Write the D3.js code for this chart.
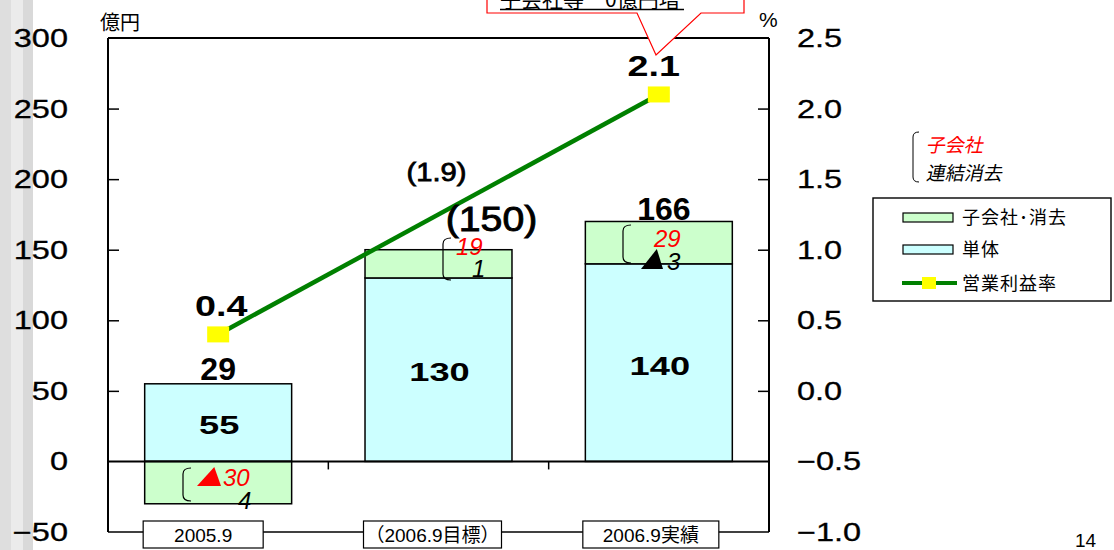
<!DOCTYPE html>
<html><head><meta charset="utf-8">
<script src="https://cdn.jsdelivr.net/npm/d3@7"></script>
<style>
html,body{margin:0;padding:0;background:#fff;}
svg{display:block;}
</style></head>
<body>
<svg id="c" width="1114" height="550"></svg>
<script>
const categories = ["2005.9", "（2006.9目標）", "2006.9実績"];
const tantai = [55, 130, 140];            // 単体
const kogaisha = [-30, 20, 30];           // 子会社・消去
const totalLabels = ["29", "(150)", "166"];
const marginValues = [0.4, 1.9, 2.1];     // 営業利益率 (%)
const marginLabels = ["0.4", "(1.9)", "2.1"];
const marginOnLine = [true, false, true];
const subsidiaryNotes = ["▲30", "19", "29"];
const elimNotes = ["4", "1", "▲3"];
const leftTicks = [-50, 0, 50, 100, 150, 200, 250, 300];
const rightTicks = [-1.0, -0.5, 0.0, 0.5, 1.0, 1.5, 2.0, 2.5];
const legendItems = ["子会社･消去", "単体", "営業利益率"];

const svg = d3.select("#c");
const L = 108, R = 769, T = 38, B = 532;
const x = d3.scaleBand().domain(categories).range([L, R]).padding(0);
const y = d3.scaleLinear().domain([-50, 300]).range([B, T]);
const y2 = d3.scaleLinear().domain([-1.0, 2.5]).range([B, T]);
const bw = x.bandwidth() * 0.667;
const cx = c => x(c) + x.bandwidth() / 2;

const GREEN = "#ccffcc", CYAN = "#ccffff", LINE = "#008000";
const SANS = "Liberation Sans";

function stretch(sel, f) {
  sel.each(function () {
    const w = this.getComputedTextLength();
    d3.select(this).attr("textLength", w * f).attr("lengthAdjust", "spacingAndGlyphs");
  });
  return sel;
}

// left stripes
[[0, 11, "#dedede"], [11, 12, "#ebebeb"], [23, 10, "#d9d9d9"]].forEach(s =>
  svg.append("rect").attr("x", s[0]).attr("y", 0).attr("width", s[1]).attr("height", 550).attr("fill", s[2]));

// bars
const g = svg.append("g");
categories.forEach((c, i) => {
  g.append("rect").attr("x", cx(c) - bw / 2).attr("width", bw)
    .attr("y", y(tantai[i])).attr("height", y(0) - y(tantai[i]))
    .attr("fill", CYAN).attr("stroke", "#000").attr("stroke-width", 1.5);
  const base = kogaisha[i] < 0 ? 0 : tantai[i];
  const top = base + kogaisha[i];
  g.append("rect").attr("x", cx(c) - bw / 2).attr("width", bw)
    .attr("y", y(Math.max(base, top))).attr("height", Math.abs(y(base) - y(top)))
    .attr("fill", GREEN).attr("stroke", "#000").attr("stroke-width", 1.5);
});

// frame
const axW = 2;
svg.append("line").attr("x1", L).attr("x2", R).attr("y1", T).attr("y2", T).attr("stroke", "#000").attr("stroke-width", axW);
svg.append("line").attr("x1", L).attr("x2", L).attr("y1", T).attr("y2", B).attr("stroke", "#000").attr("stroke-width", axW);
svg.append("line").attr("x1", R).attr("x2", R).attr("y1", T).attr("y2", B).attr("stroke", "#000").attr("stroke-width", axW);
svg.append("line").attr("x1", L).attr("x2", R).attr("y1", B).attr("y2", B).attr("stroke", "#000").attr("stroke-width", 1.5);
svg.append("line").attr("x1", L).attr("x2", R).attr("y1", y(0)).attr("y2", y(0)).attr("stroke", "#000").attr("stroke-width", 2);
categories.slice(1).forEach(c => svg.append("line").attr("x1", x(c)).attr("x2", x(c))
  .attr("y1", y(0)).attr("y2", y(0) + 8).attr("stroke", "#000").attr("stroke-width", 1.5));

// left axis ticks & labels
const la = d3.axisRight(y).tickValues(leftTicks.filter(v => v > -50 && v < 300 && v !== 0)).tickSize(11).tickFormat("");
svg.append("g").attr("transform", `translate(${L},0)`).call(la).call(s => s.select(".domain").remove())
  .selectAll("line").attr("stroke", "#000").attr("stroke-width", 1.5);
stretch(svg.append("g").selectAll("text").data(leftTicks).join("text")
  .attr("x", 68).attr("y", d => y(d)).attr("dy", "0.36em").attr("text-anchor", "end")
  .attr("font-family", SANS).attr("font-size", 25).attr("stroke", "#000").attr("stroke-width", 0.3)
  .text(d => d < 0 ? "−" + Math.abs(d) : d), 1.3);

// right axis ticks & labels
const ra = d3.axisLeft(y2).tickValues(rightTicks.filter(v => v > -1 && v < 2.5 && v !== -0.5)).tickSize(11).tickFormat("");
svg.append("g").attr("transform", `translate(${R},0)`).call(ra).call(s => s.select(".domain").remove())
  .selectAll("line").attr("stroke", "#000").attr("stroke-width", 1.5);
stretch(svg.append("g").selectAll("text").data(rightTicks).join("text")
  .attr("x", 797).attr("y", d => y2(d)).attr("dy", "0.36em").attr("text-anchor", "start")
  .attr("font-family", SANS).attr("font-size", 25).attr("stroke", "#000").attr("stroke-width", 0.3)
  .text(d => (d < 0 ? "−" : "") + Math.abs(d).toFixed(1)), 1.3);

// unit labels
svg.append("text").attr("x", 100).attr("y", 30).attr("font-family", "Noto Sans CJK JP").attr("font-size", 20).text("億円");
svg.append("text").attr("x", 759).attr("y", 27).attr("font-family", SANS).attr("font-size", 21).text("%");

// category boxes
const boxW = [120, 138, 136], boxDx = [-15, -6, -8];
categories.forEach((c, i) => {
  svg.append("rect").attr("x", cx(c) + boxDx[i] - boxW[i] / 2).attr("y", 521).attr("width", boxW[i]).attr("height", 27)
    .attr("fill", "#fff").attr("stroke", "#000").attr("stroke-width", 1.2);
  svg.append("text").attr("x", cx(c) + boxDx[i]).attr("y", 535).attr("dy", "0.36em")
    .attr("text-anchor", "middle").attr("font-family", "Liberation Sans, Noto Sans CJK JP").attr("font-size", 19)
    .text(c);
});

// line
const linePts = categories.map((c, i) => ({c, v: marginValues[i], on: marginOnLine[i]})).filter(d => d.on);
svg.append("path").datum(linePts)
  .attr("d", d3.line().x(d => cx(d.c)).y(d => y2(d.v)))
  .attr("fill", "none").attr("stroke", LINE).attr("stroke-width", 4.5);
svg.selectAll(".mk").data(linePts).join("rect").attr("class", "mk")
  .attr("x", d => cx(d.c) - 11).attr("y", d => y2(d.v) - 8).attr("width", 22).attr("height", 16)
  .attr("fill", "#ffff00");

// margin labels
const mDx = [3, -2, -5];
categories.forEach((c, i) => {
  if (marginOnLine[i]) {
    stretch(svg.append("text").attr("x", cx(c) + mDx[i]).attr("y", y2(marginValues[i]) - 18)
      .attr("text-anchor", "middle").attr("font-family", SANS).attr("font-weight", "bold")
      .attr("font-size", 29).text(marginLabels[i]), 1.3);
  } else {
    stretch(svg.append("text").attr("x", cx(c) + mDx[i]).attr("y", 181)
      .attr("text-anchor", "middle").attr("font-family", SANS)
      .attr("font-size", 26).attr("stroke", "#000").attr("stroke-width", 0.8).text(marginLabels[i]), 1.12);
  }
});

// total labels
const totDx = [0, 53, 5], totY = [380, 231, 220], totSize = [32, 35, 32];
categories.forEach((c, i) => {
  const t = svg.append("text").attr("x", cx(c) + totDx[i]).attr("y", totY[i])
    .attr("text-anchor", "middle").attr("font-family", SANS)
    .attr("font-size", totSize[i]).text(totalLabels[i]);
  if (i === 1) { t.attr("stroke", "#000").attr("stroke-width", 0.9); stretch(t, 1.12); }
  else t.attr("font-weight", "bold");
});

// tantai value labels inside bars
const tY = [434, 381, 375];
categories.forEach((c, i) => {
  stretch(svg.append("text").attr("x", cx(c) + 1).attr("y", tY[i])
    .attr("text-anchor", "middle").attr("font-family", SANS).attr("font-weight", "bold")
    .attr("font-size", 25).text(tantai[i]), 1.45);
});

function bracket(x0, y0, y1) {
  svg.append("path").attr("d", `M${x0 + 8},${y0} Q${x0},${y0} ${x0},${y0 + 6} L${x0},${y1 - 6} Q${x0},${y1} ${x0 + 8},${y1}`)
    .attr("fill", "none").attr("stroke", "#000").attr("stroke-width", 1.2);
}
function tri(x0, ybot, w, h, col) {
  svg.append("path").attr("d", `M${x0},${ybot} L${x0 + w},${ybot} L${x0 + w * 0.72},${ybot - h} Z`).attr("fill", col);
}
function note(xp, yp, txt, col) {
  svg.append("text").attr("x", xp).attr("y", yp).attr("font-family", SANS).attr("font-style", "italic")
    .attr("font-size", 24).attr("fill", col).text(txt);
}
// bar1 notes
bracket(183, 468, 501);
tri(197, 486, 24, 19, "#ff0000");
note(223, 486, subsidiaryNotes[0].replace("▲", ""), "#ff0000");
note(238, 509, elimNotes[0], "#000");
// bar2 notes
bracket(443, 238, 280);
note(456, 255, subsidiaryNotes[1], "#ff0000");
note(472, 277, elimNotes[1], "#000");
// bar3 notes
bracket(623, 225, 263);
note(654, 247, subsidiaryNotes[2], "#ff0000");
tri(641, 269, 22, 20, "#000");
note(667, 270, elimNotes[2].replace("▲", ""), "#000");

// callout at top
svg.append("path").attr("d", "M487,-2 L487,13 L637,13 L656,55 L701,13 L744,13 L744,-2")
  .attr("fill", "#fff").attr("stroke", "#ff0000").attr("stroke-width", 1.2);
svg.append("text").attr("x", 500).attr("y", 7).attr("font-family", "Noto Sans CJK JP").attr("font-size", 21)
  .text("子会社等　0億円増");
svg.append("line").attr("x1", 500).attr("x2", 684).attr("y1", 9.5).attr("y2", 9.5).attr("stroke", "#000").attr("stroke-width", 1.5);

// side note
svg.append("path").attr("d", "M919,132 Q913,132 913,137 L913,177 Q913,182 919,182")
  .attr("fill", "none").attr("stroke", "#000").attr("stroke-width", 1);
svg.append("text").attr("x", 926).attr("y", 152).attr("font-family", "Noto Sans CJK JP").attr("font-size", 19)
  .attr("fill", "#ff0000").attr("transform", "translate(32,0) skewX(-12)").text("子会社");
svg.append("text").attr("x", 926).attr("y", 180).attr("font-family", "Noto Sans CJK JP").attr("font-size", 19)
  .attr("fill", "#000").attr("transform", "translate(38,0) skewX(-12)").text("連結消去");

// legend
svg.append("rect").attr("x", 873).attr("y", 198).attr("width", 238).attr("height", 103)
  .attr("fill", "#fff").attr("stroke", "#000").attr("stroke-width", 1.4);
const lg = svg.append("g");
lg.append("rect").attr("x", 903).attr("y", 213).attr("width", 50).attr("height", 9).attr("fill", GREEN).attr("stroke", "#000").attr("stroke-width", 1.2);
lg.append("rect").attr("x", 903).attr("y", 245).attr("width", 50).attr("height", 9).attr("fill", CYAN).attr("stroke", "#000").attr("stroke-width", 1.2);
lg.append("line").attr("x1", 902).attr("x2", 957).attr("y1", 283).attr("y2", 283).attr("stroke", LINE).attr("stroke-width", 4);
lg.append("rect").attr("x", 922).attr("y", 277).attr("width", 14).attr("height", 12).attr("fill", "#ffff00");
legendItems.forEach((t, i) => lg.append("text").attr("x", 962).attr("y", [218, 250, 284][i]).attr("dy", "0.35em")
  .attr("font-family", "Noto Sans CJK JP").attr("font-size", 18).attr("letter-spacing", 1).text(t));

// page number
svg.append("text").attr("x", 1075).attr("y", 547).attr("font-family", SANS).attr("font-size", 19).text("14");
</script>
</body></html>
